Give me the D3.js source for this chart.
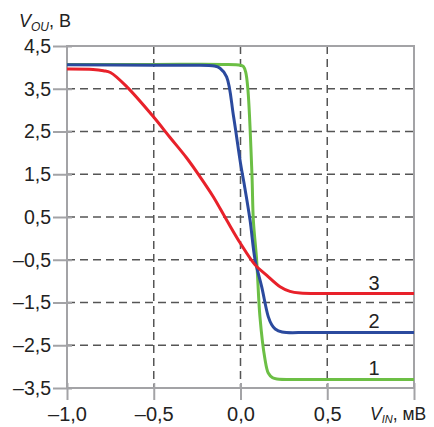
<!DOCTYPE html>
<html>
<head>
<meta charset="utf-8">
<script src="https://cdn.jsdelivr.net/npm/d3@7"></script>
<style>
  body { margin: 0; background: #fff; }
  svg text { font-family: "Liberation Sans", Arial, sans-serif; fill: #222; }
</style>
</head>
<body>
<div id="chart"></div>
<script>
'use strict';

// x ticks (mV) and y ticks (V)
const xTicks = [-1.0, -0.5, 0.0, 0.5];
const yTicks = [4.5, 3.5, 2.5, 1.5, 0.5, -0.5, -1.5, -2.5, -3.5];

// curve 1 (green)
const curve1 = [
  [-1.0, 4.07], [-0.5, 4.07], [-0.1, 4.07], [0.0, 4.05], [0.017, 4.02], [0.03, 3.89],
  [0.043, 3.47], [0.066, 1.5], [0.074, 0.43], [0.093, -0.5], [0.112, -1.83],
  [0.14, -2.8], [0.16, -3.15], [0.185, -3.26], [0.21, -3.29], [0.4, -3.3], [1.0, -3.3]
];
// curve 2 (blue)
const curve2 = [
  [-1.0, 4.06], [-0.5, 4.05], [-0.27, 4.05], [-0.15, 4.03], [-0.118, 3.98], [-0.08, 3.78],
  [-0.04, 2.85], [0.0, 1.76], [0.02, 1.3], [0.055, 0.43], [0.084, -0.5], [0.122, -1.13],
  [0.16, -1.83], [0.18, -2.02], [0.2, -2.12], [0.24, -2.19], [0.4, -2.2], [1.0, -2.2]
];
// curve 3 (red)
const curve3 = [
  [-1.0, 3.96], [-0.85, 3.95], [-0.79, 3.92], [-0.75, 3.88], [-0.656, 3.55], [-0.503, 2.85],
  [-0.406, 2.36], [-0.31, 1.88], [-0.233, 1.44], [-0.157, 0.975], [-0.08, 0.43],
  [0.0, -0.12], [0.084, -0.62], [0.15, -0.86], [0.228, -1.13], [0.285, -1.24],
  [0.343, -1.28], [0.5, -1.29], [1.0, -1.29]
];

const curves = [
  { data: curve1, color: '#6cbf45', label: '1' },
  { data: curve2, color: '#2b4a9e', label: '2' },
  { data: curve3, color: '#e8212a', label: '3' }
];

const W = 434, H = 427;
const margin = { top: 46, right: 20, bottom: 39, left: 67 };
const width = W - margin.left - margin.right;
const height = H - margin.top - margin.bottom;

const x = d3.scaleLinear().domain([-1, 1]).range([0, width]);
const y = d3.scaleLinear().domain([-3.5, 4.5]).range([height, 0]);

const fmt = d => d3.format('.1f')(d).replace('.', ',').replace('-', '\u2013').replace('\u2212', '\u2013');

const svg = d3.select('#chart').append('svg')
  .attr('width', W).attr('height', H);

const g = svg.append('g')
  .attr('transform', 'translate(' + margin.left + ',' + margin.top + ')');

// dashed grid
g.selectAll('.hgrid').data(yTicks.filter(d => d > -3.5 && d < 4.5)).enter()
  .append('line')
  .attr('x1', 0).attr('x2', width)
  .attr('y1', d => y(d)).attr('y2', d => y(d))
  .attr('stroke', '#555').attr('stroke-width', 1.5).attr('stroke-dasharray', '8,5');

g.selectAll('.vgrid').data(xTicks.filter(d => d > -1)).enter()
  .append('line')
  .attr('x1', d => x(d)).attr('x2', d => x(d))
  .attr('y1', 0).attr('y2', height)
  .attr('stroke', '#555').attr('stroke-width', 1.5).attr('stroke-dasharray', '8,5');

// frame
g.append('rect')
  .attr('x', 0).attr('y', 0).attr('width', width).attr('height', height)
  .attr('fill', 'none').attr('stroke', '#a3a3a6').attr('stroke-width', 2);

// axes
const xAxis = g.append('g')
  .attr('transform', 'translate(0,' + height + ')')
  .call(d3.axisBottom(x).tickValues(xTicks.concat([1.0])).tickSize(12).tickPadding(7).tickFormat(fmt));
const yAxis = g.append('g')
  .call(d3.axisLeft(y).tickValues(yTicks).tickSize(14).tickPadding(2).tickFormat(fmt));

[xAxis, yAxis].forEach(a => {
  a.select('.domain').remove();
  a.selectAll('line').attr('stroke', '#a3a3a6').attr('stroke-width', 2);
  a.selectAll('text').attr('fill', '#222');
});
xAxis.selectAll('text').style('font-size', '20px');
yAxis.selectAll('text').style('font-size', '19.5px');
xAxis.selectAll('line').attr('y1', -5);
yAxis.selectAll('line').attr('x1', 5);
// last x tick carries the axis title instead of a number
xAxis.selectAll('.tick').filter(d => d === 1).select('text').remove();

// curves
const line = d3.line()
  .x(d => x(d[0]))
  .y(d => y(d[1]))
  .curve(d3.curveCatmullRom.alpha(0.5));

g.selectAll('.curve').data(curves).enter()
  .append('path')
  .attr('fill', 'none')
  .attr('stroke', d => d.color)
  .attr('stroke-width', 3)
  .attr('stroke-linejoin', 'round')
  .attr('d', d => line(d.data));

// curve labels
g.selectAll('.clabel').data(curves).enter()
  .append('text')
  .attr('x', x(0.77))
  .attr('y', d => y(d.data[d.data.length - 1][1]) - 4)
  .attr('text-anchor', 'middle')
  .style('font-size', '20px')
  .text(d => d.label);

// axis titles
const yt = svg.append('text').attr('x', 19).attr('y', 27).style('font-size', '18px');
yt.append('tspan').style('font-style', 'italic').text('V');
yt.append('tspan').style('font-style', 'italic').style('font-size', '12px').attr('dy', 4).text('OU');
yt.append('tspan').attr('dy', -4).text(', В');

const xt = svg.append('text').attr('x', 370).attr('y', 420).style('font-size', '17.5px');
xt.append('tspan').style('font-style', 'italic').text('V');
xt.append('tspan').style('font-style', 'italic').style('font-size', '11px').attr('dy', 3).text('IN');
xt.append('tspan').attr('dy', -3).text(', мВ');
</script>
</body>
</html>
